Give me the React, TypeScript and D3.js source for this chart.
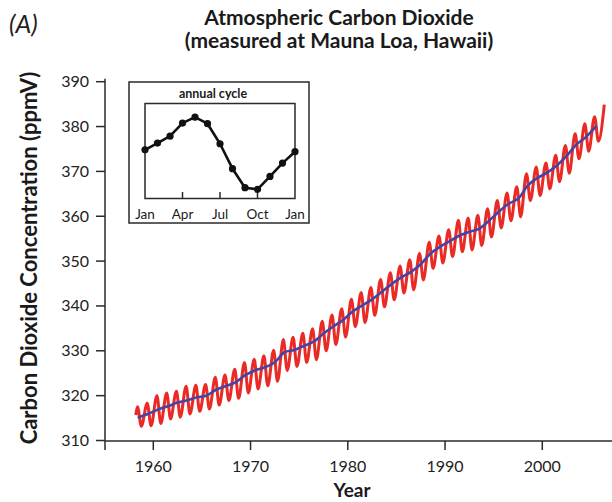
import React from "react";
import * as d3 from "d3";

// Annual mean CO2 (ppmV), plotted mid-year
const meanYears = [1958,1959,1960,1961,1962,1963,1964,1965,1966,1967,1968,1969,1970,1971,1972,1973,1974,1975,1976,1977,1978,1979,1980,1981,1982,1983,1984,1985,1986,1987,1988,1989,1990,1991,1992,1993,1994,1995,1996,1997,1998,1999,2000,2001,2002,2003,2004,2005];
const meanValues = [315.2,315.97,316.91,317.64,318.45,318.99,319.62,320.04,321.38,322.16,323.04,324.62,325.68,326.32,327.46,329.68,330.19,331.13,332.03,333.84,335.41,336.84,338.76,340.12,341.48,343.15,344.87,346.35,347.61,349.31,351.69,353.2,354.45,355.7,356.54,357.21,358.96,360.97,362.74,363.88,366.84,368.54,369.71,371.32,373.45,375.98,377.7,379.98];

// Monthly record: seasonal maxima (May) and minima (Sep/Oct)
const peakYears = [1958,1959,1960,1961,1962,1963,1964,1965,1966,1967,1968,1969,1970,1971,1972,1973,1974,1975,1976,1977,1978,1979,1980,1981,1982,1983,1984,1985,1986,1987,1988,1989,1990,1991,1992,1993,1994,1995,1996,1997,1998,1999,2000,2001,2002,2003,2004,2005,2006];
const peakValues = [317.5,318.3,320.0,320.6,321.0,322.1,322.3,322.5,324.1,324.6,325.9,327.4,328.1,328.9,330.1,332.5,333.0,333.9,334.9,336.6,338.0,339.4,341.5,343.0,344.1,345.9,347.4,348.9,350.3,351.7,354.2,355.6,357.0,359.1,359.6,360.2,361.7,363.5,365.2,366.6,369.5,371.0,371.9,373.6,375.8,378.4,380.6,382.2,384.9];
const troughYears = [1958,1959,1960,1961,1962,1963,1964,1965,1966,1967,1968,1969,1970,1971,1972,1973,1974,1975,1976,1977,1978,1979,1980,1981,1982,1983,1984,1985,1986,1987,1988,1989,1990,1991,1992,1993,1994,1995,1996,1997,1998,1999,2000,2001,2002,2003,2004,2005];
const troughValues = [313.2,313.3,313.8,314.8,315.2,315.9,316.5,317.0,317.9,318.9,319.4,320.6,321.5,322.2,323.2,325.6,326.5,327.4,328.0,330.0,331.4,333.1,335.4,336.3,337.9,339.8,341.4,342.9,343.6,345.8,348.4,349.6,351.0,352.1,352.5,353.5,355.4,357.4,359.0,359.9,363.5,364.6,366.1,367.7,369.6,372.8,374.5,376.7];
const recordStart = { t: 1958.2, v: 315.7 };

// Inset: annual cycle (ppm deviation), Jan..Jan
const cycleMonths = [0,1,2,3,4,5,6,7,8,9,10,11,12];
const cycleValues = [0.1,0.67,1.25,2.35,2.85,2.3,0.61,-1.49,-3.09,-3.23,-2.14,-1.02,-0.06];
const cycleTicks = [0,3,6,9,12];
const cycleLabels = ["Jan","Apr","Jul","Oct","Jan"];

const yTicks = [310,320,330,340,350,360,370,380,390];
const xTicks = [1960,1970,1980,1990,2000];

const FONT = "Lato, 'Open Sans', sans-serif";
const AX = "#2a2a2a";

export default function App() {
  const x = d3.scaleLinear().domain([1960, 2000]).range([153.3, 542.3]);
  const y = d3.scaleLinear().domain([310, 390]).range([440.5, 81.7]);

  const redPts: [number, number][] = [[recordStart.t, recordStart.v]];
  peakYears.forEach((yr, i) => {
    redPts.push([yr + 0.375, peakValues[i]]);
    const j = troughYears.indexOf(yr);
    if (j >= 0) redPts.push([yr + 0.77, troughValues[j]]);
  });
  const bluePts: [number, number][] = meanYears.map((yr, i) => [yr + 0.5, meanValues[i]]);

  const line = d3.line<[number, number]>()
    .x((d) => x(d[0]))
    .y((d) => y(d[1]))
    .curve(d3.curveMonotoneX);
  const blueLine = d3.line<[number, number]>()
    .x((d) => x(d[0]))
    .y((d) => y(d[1]))
    .curve(d3.curveCatmullRom);

  // inset scales
  const ix = d3.scaleLinear().domain([0, 12]).range([145, 295]);
  const iy = d3.scaleLinear().domain([-4, 4]).range([198.5, 103.5]);
  const cyc = d3.line<number>()
    .x((_, i) => ix(cycleMonths[i]))
    .y((d) => iy(d));

  const x0 = 105;
  const axisY = 441;

  return (
    <svg width={612} height={502} style={{ position: "absolute", left: 0, top: 0, background: "#fff" }} fontFamily={FONT}>
      <rect width={612} height={502} fill="#fff" />
      {/* Panel label and title */}
      <text x={9} y={33} fontSize={25} fontStyle="italic" fontWeight={400} fill="#222">(A)</text>
      <text x={339} y={25} fontSize={21} fontWeight={700} textAnchor="middle" fill="#1a1a1a">Atmospheric Carbon Dioxide</text>
      <text x={339} y={48} fontSize={21} fontWeight={700} textAnchor="middle" fill="#1a1a1a">(measured at Mauna Loa, Hawaii)</text>

      {/* Y axis */}
      <line x1={x0} x2={x0} y1={y(390) - 3} y2={450} stroke={AX} strokeWidth={1.5} />
      {yTicks.map((t) => (
        <g key={t}>
          <line x1={96} x2={x0} y1={y(t)} y2={y(t)} stroke={AX} strokeWidth={1.5} />
          <text x={89} y={y(t) + 5.5} fontSize={16} textAnchor="end" fill="#222">{t}</text>
        </g>
      ))}
      <text transform={`translate(37,${258}) rotate(-90)`} fontSize={22} fontWeight={700} textAnchor="middle" fill="#1a1a1a">
        Carbon Dioxide Concentration (ppmV)
      </text>

      {/* X axis */}
      <line x1={x0} x2={612} y1={axisY} y2={axisY} stroke={AX} strokeWidth={1.5} />
      {xTicks.map((t) => (
        <g key={t}>
          <line x1={x(t)} x2={x(t)} y1={axisY} y2={450} stroke={AX} strokeWidth={1.5} />
          <text x={x(t)} y={472} fontSize={16} textAnchor="middle" fill="#222">{t}</text>
        </g>
      ))}
      <text x={352} y={497} fontSize={19} fontWeight={700} textAnchor="middle" fill="#1a1a1a">Year</text>

      {/* Data */}
      <path d={line(redPts) || ""} fill="none" stroke="#ea2a25" strokeWidth={3} strokeLinejoin="round" />
      <path d={blueLine(bluePts) || ""} fill="none" stroke="#4444a6" strokeWidth={2.6} strokeLinejoin="round" strokeLinecap="round" />

      {/* Inset */}
      <rect x={129} y={82} width={180} height={141} fill="#fff" stroke={AX} strokeWidth={1.5} />
      <text x={213} y={98} fontSize={12.5} fontWeight={700} textAnchor="middle" fill="#1a1a1a">annual cycle</text>
      <rect x={145} y={103.5} width={150} height={95} fill="none" stroke={AX} strokeWidth={1.5} />
      {cycleTicks.map((m, i) => (
        <g key={i}>
          {m > 0 && m < 12 && (
            <line x1={ix(m)} x2={ix(m)} y1={198.5} y2={192} stroke={AX} strokeWidth={1.5} />
          )}
          <text x={ix(m)} y={219} fontSize={13.5} textAnchor="middle" fill="#1a1a1a">{cycleLabels[i]}</text>
        </g>
      ))}
      <path d={cyc(cycleValues) || ""} fill="none" stroke="#111" strokeWidth={2.6} strokeLinejoin="round" />
      {cycleValues.map((v, i) => (
        <circle key={i} cx={ix(cycleMonths[i])} cy={iy(v)} r={3.6} fill="#111" />
      ))}
    </svg>
  );
}
